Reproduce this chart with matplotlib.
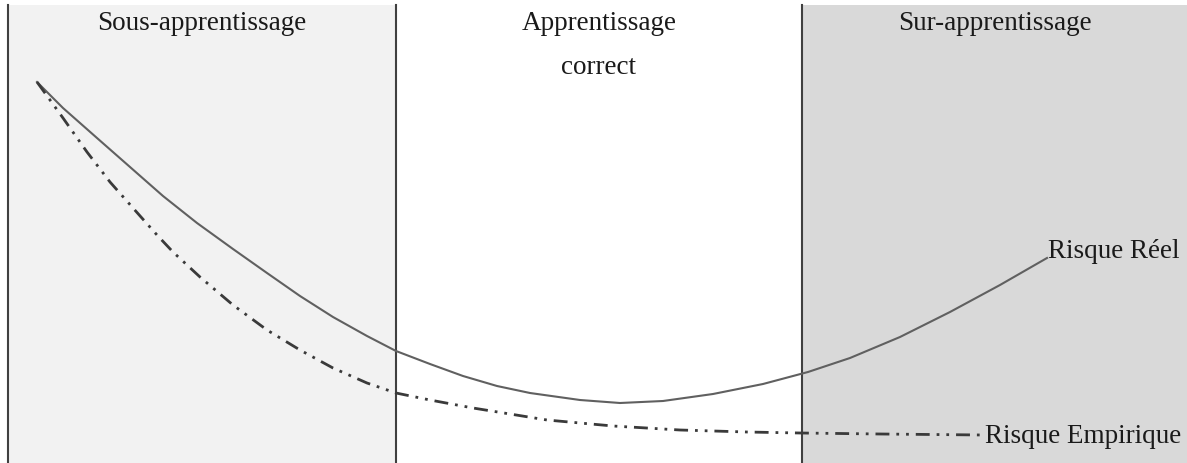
import matplotlib.pyplot as plt

# Zones (x limits in image pixels) and labels
zone_edges = [8, 396, 802, 1187]
zone_colors = ['#f2f2f2', '#ffffff', '#d9d9d9']
zone_titles = ['Sous-apprentissage', 'Apprentissage\ncorrect', 'Sur-apprentissage']
zone_title_x = [202, 599, 995]

# Risque réel (courbe pleine)
reel_x = [37, 63, 97, 130, 163, 197, 233, 267, 300, 333, 367, 396, 430, 463,
          497, 530, 580, 620, 663, 713, 763, 808, 850, 900, 950, 1000, 1047]
reel_y = [82, 108, 138, 167, 196, 223, 249, 273, 296, 317, 336, 351, 364, 376,
          386, 393, 400, 403, 401, 394, 384, 372, 358, 337, 312, 285, 258]

# Risque empirique (trait mixte)
emp_x = [37, 63, 87, 110, 133, 157, 173, 200, 233, 267, 300, 333, 367, 396,
         430, 473, 547, 613, 680, 747, 800, 880, 983]
emp_y = [82, 118, 152, 182, 208, 235, 252, 277, 305, 330, 350, 368, 383, 393,
         400, 408, 420, 426, 430, 432, 433, 434, 435]

fig = plt.figure(figsize=(11.87, 4.63), dpi=100)
ax = fig.add_axes([0, 0, 1, 1])
ax.set_xlim(0, 1187)
ax.set_ylim(463, 0)
ax.axis('off')

top = 5
for i in range(3):
    ax.fill_between([zone_edges[i], zone_edges[i + 1]], top, 463,
                    color=zone_colors[i], lw=0, zorder=0)
for x in zone_edges[:3]:
    ax.plot([x, x], [top, 463], color='#404040', lw=1.5, zorder=1)

font = dict(family='Liberation Serif', fontsize=19.5, color='#1a1a1a')
for x, t in zip(zone_title_x, zone_titles):
    ax.text(x, 11, t, ha='center', va='top', linespacing=2.0, **font)

ax.plot(reel_x, reel_y, color='#606060', lw=1.5, zorder=3)
ax.plot(emp_x, emp_y, color='#3a3a3a', lw=2.0, zorder=3,
        linestyle=(0, (5, 2.5, 1, 2.5, 1, 2.5)))

ax.text(1048, 258, 'Risque Réel', ha='left', va='baseline', **font)
ax.text(985, 443, 'Risque Empirique', ha='left', va='baseline', **font)

fig.savefig('out.png', dpi=100)
